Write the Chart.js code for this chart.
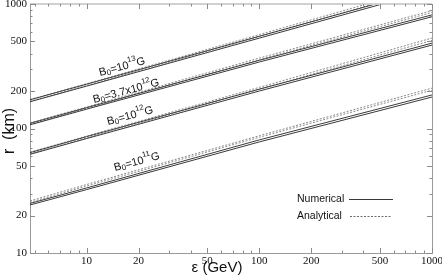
<!DOCTYPE html>
<html>
<head>
<meta charset="utf-8">
<script src="https://cdn.jsdelivr.net/npm/chart.js@4"></script>
<style>
  html, body { margin: 0; padding: 0; background: #fff; }
  #wrap { width: 442px; height: 277px; }
</style>
</head>
<body>
<div id="wrap"><canvas id="chart" width="442" height="277"></canvas></div>
<script>
// energy points (GeV)
const eps = [4.7, 10, 100, 1000];

// radius r (km), two numerical + two analytical curves per field strength
const b13Num1 = [164, 219, 532, 1291];
const b13Num2 = [170, 227, 551, 1337];
const b13Ana1 = [165, 221, 548, 1360];
const b13Ana2 = [171, 229, 568, 1410];

const b37Num1 = [107, 143, 342, 790];
const b37Num2 = [110, 147, 353, 818];
const b37Ana1 = [108, 145, 357, 855];
const b37Ana2 = [111, 149, 368, 885];

const b12Num1 = [62, 83, 200, 468];
const b12Num2 = [64, 86, 207, 485];
const b12Ana1 = [62.5, 84, 207, 510];
const b12Ana2 = [64.5, 87, 214, 533];

const b11Num1 = [24.3, 32.3, 78, 179];
const b11Num2 = [25, 33.3, 81, 186];
const b11Ana1 = [25.5, 34.5, 85, 203];
const b11Ana2 = [26.2, 35.5, 87.5, 211];

const xTicks = [10, 20, 50, 100, 200, 500, 1000];
const yTicks = [10, 20, 50, 100, 200, 500, 1000];

const numericalSets = [b13Num1, b13Num2, b37Num1, b37Num2, b12Num1, b12Num2, b11Num1, b11Num2];
const analyticalSets = [b13Ana1, b13Ana2, b37Ana1, b37Ana2, b12Ana1, b12Ana2, b11Ana1, b11Ana2];

const toPoints = arr => arr.map((r, i) => ({ x: eps[i], y: r }));

const datasets = [];
numericalSets.forEach(arr => {
  datasets.push({
    label: 'Numerical',
    data: toPoints(arr),
    borderColor: '#3a3a3a',
    borderWidth: 1,
    pointRadius: 0,
    tension: 0
  });
});
analyticalSets.forEach(arr => {
  datasets.push({
    label: 'Analytical',
    data: toPoints(arr),
    borderColor: '#8a8a8a',
    borderWidth: 1,
    borderDash: [2, 1.5],
    pointRadius: 0,
    tension: 0
  });
});

// minor tick values for log axes
function minorValues(min, max) {
  const out = [];
  for (let d = 1; d <= 1000; d *= 10) {
    for (let m = 1; m < 10; m++) {
      const v = m * d;
      if (v >= min && v <= max) out.push(v);
    }
  }
  return out;
}

// B-field labels along the curves
const fieldLabels = [
  { x: 100, y: 76, parts: [['B'], ['0', 'sub'], ['=10'], ['13', 'sup'], ['G']] },
  { x: 94, y: 103, parts: [['B'], ['0', 'sub'], ['=3.7x10'], ['12', 'sup'], ['G']] },
  { x: 108, y: 125, parts: [['B'], ['0', 'sub'], ['=10'], ['12', 'sup'], ['G']] },
  { x: 115, y: 171, parts: [['B'], ['0', 'sub'], ['=10'], ['11', 'sup'], ['G']] }
];

const framePlugin = {
  id: 'frame',
  afterDraw(chart) {
    const ctx = chart.ctx;
    const a = chart.chartArea;
    const xs = chart.scales.x;
    const ys = chart.scales.y;
    ctx.save();

    // frame
    ctx.strokeStyle = '#d0d0d0';
    ctx.lineWidth = 2;
    ctx.beginPath();
    ctx.moveTo(a.left, a.top);
    ctx.lineTo(a.right, a.top);
    ctx.stroke();
    ctx.strokeStyle = '#9a9a9a';
    ctx.lineWidth = 1;
    ctx.beginPath();
    ctx.moveTo(a.right + 0.5, a.top);
    ctx.lineTo(a.right + 0.5, a.bottom);
    ctx.stroke();

    // ticks inward on all four sides
    ctx.strokeStyle = '#8a8a8a';
    ctx.lineWidth = 1;
    const xMinor = minorValues(xs.min, xs.max);
    xMinor.forEach(v => {
      const px = Math.round(xs.getPixelForValue(v)) + 0.5;
      const len = xTicks.includes(v) ? 5 : 2.5;
      ctx.beginPath();
      ctx.moveTo(px, a.bottom);
      ctx.lineTo(px, a.bottom - len);
      ctx.moveTo(px, a.top);
      ctx.lineTo(px, a.top + len);
      ctx.stroke();
    });
    const yMinor = minorValues(ys.min, ys.max);
    yMinor.forEach(v => {
      const py = Math.round(ys.getPixelForValue(v)) + 0.5;
      const len = yTicks.includes(v) ? 5 : 2.5;
      ctx.beginPath();
      ctx.moveTo(a.left, py);
      ctx.lineTo(a.left + len, py);
      ctx.moveTo(a.right, py);
      ctx.lineTo(a.right - len, py);
      ctx.stroke();
    });

    // axis titles
    ctx.fillStyle = '#111';
    ctx.font = '15px "Liberation Sans", Arial, sans-serif';
    ctx.textAlign = 'center';
    ctx.textBaseline = 'middle';
    ctx.fillText('\u03b5 (GeV)', 217, 268);
    ctx.save();
    ctx.translate(10, 131);
    ctx.rotate(-Math.PI / 2);
    ctx.font = '16px "Liberation Sans", Arial, sans-serif';
    ctx.fillText('r  (km)', 0, 0);
    ctx.restore();

    // legend
    ctx.font = '10.5px "Liberation Sans", Arial, sans-serif';
    ctx.textAlign = 'left';
    ctx.fillStyle = '#111';
    ctx.fillText('Numerical', 297, 199);
    ctx.fillText('Analytical', 297, 216);
    ctx.strokeStyle = '#3a3a3a';
    ctx.beginPath();
    ctx.moveTo(349, 199.5);
    ctx.lineTo(393, 199.5);
    ctx.stroke();
    ctx.strokeStyle = '#6a6a6a';
    ctx.setLineDash([2, 1.5]);
    ctx.beginPath();
    ctx.moveTo(350, 216.5);
    ctx.lineTo(392, 216.5);
    ctx.stroke();
    ctx.setLineDash([]);

    // field labels
    fieldLabels.forEach(lab => {
      ctx.save();
      ctx.translate(lab.x, lab.y);
      ctx.rotate(-15 * Math.PI / 180);
      ctx.textBaseline = 'alphabetic';
      let cx = 0;
      lab.parts.forEach(([t, kind]) => {
        let dy = 0;
        if (kind === 'sub') {
          ctx.font = '8px "Liberation Sans", Arial, sans-serif';
          dy = 1.5;
        } else if (kind === 'sup') {
          ctx.font = '7.5px "Liberation Sans", Arial, sans-serif';
          dy = -6;
        } else {
          ctx.font = '11px "Liberation Sans", Arial, sans-serif';
        }
        ctx.fillText(t, cx, dy);
        cx += ctx.measureText(t).width;
      });
      ctx.restore();
    });

    ctx.restore();
  }
};

new Chart(document.getElementById('chart'), {
  type: 'line',
  data: { datasets },
  options: {
    responsive: false,
    animation: false,
    layout: { padding: { left: 0, right: 10, top: 4, bottom: 0 } },
    plugins: {
      legend: { display: false },
      tooltip: { enabled: false }
    },
    scales: {
      x: {
        type: 'logarithmic',
        min: 4.7,
        max: 1000,
        grid: { display: false, drawTicks: false },
        border: { display: true, color: '#9a9a9a', width: 1 },
        ticks: {
          color: '#111',
          font: { family: '"Liberation Serif", "Times New Roman", serif', size: 11 },
          padding: 2,
          maxRotation: 0,
          autoSkip: false,
          callback: v => String(v)
        },
        afterBuildTicks: s => { s.ticks = xTicks.map(v => ({ value: v })); },
        afterFit: s => { s.height = 24; s.paddingLeft = 0; s.paddingRight = 0; }
      },
      y: {
        type: 'logarithmic',
        min: 10,
        max: 1000,
        grid: { display: false, drawTicks: false },
        border: { display: true, color: '#9a9a9a', width: 1 },
        ticks: {
          color: '#111',
          font: { family: '"Liberation Serif", "Times New Roman", serif', size: 11 },
          padding: 3,
          autoSkip: false,
          callback: v => String(v)
        },
        afterBuildTicks: s => { s.ticks = yTicks.map(v => ({ value: v })); },
        afterFit: s => { s.width = 30; s.paddingTop = 0; s.paddingBottom = 0; }
      }
    }
  },
  plugins: [framePlugin]
});
</script>
</body>
</html>
